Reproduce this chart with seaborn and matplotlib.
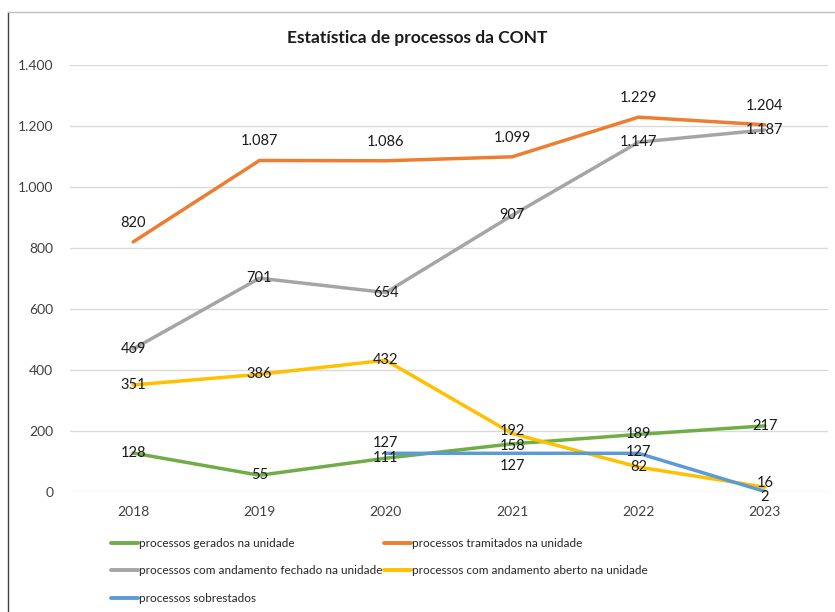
import matplotlib
matplotlib.use("Agg")
import matplotlib.pyplot as plt
from matplotlib.lines import Line2D
from matplotlib.ticker import FuncFormatter
import numpy as np
import pandas as pd
import seaborn as sns

#---------------------Dados------------------
anos = ['2018', '2019', '2020', '2021', '2022', '2023']
gerados = [128, 55, 111, 158, 189, 217]
tramitados = [820, 1087, 1086, 1099, 1229, 1204]
fechados = [469, 701, 654, 907, 1147, 1187]
abertos = [351, 386, 432, 192, 82, 16]
sobrestados = [np.nan, np.nan, 127, 127, 127, 2]

series = {
    'processos gerados na unidade': gerados,
    'processos tramitados na unidade': tramitados,
    'processos com andamento fechado na unidade': fechados,
    'processos com andamento aberto na unidade': abertos,
    'processos sobrestados': sobrestados,
}
cores = ['#70AD47', '#ED7D31', '#A5A5A5', '#FFC000', '#5B9BD5']

# deslocamento vertical dos rótulos (pixels), por série
desloc = {
    'processos gerados na unidade': [0, 0, 0, -2, 0, 0],
    'processos tramitados na unidade': [19, 19, 19, 19, 19, 19],
    'processos com andamento fechado na unidade': [0, 0, 0, 0, 0, 0],
    'processos com andamento aberto na unidade': [0, 0, 0, 2, 0, 4],
    'processos sobrestados': [0, 0, 10, -13, 1, -6],
}

df = pd.DataFrame([
    {'Ano': a, 'Série': nome, 'Valor': v}
    for nome, vals in series.items() for a, v in zip(anos, vals)
]).dropna()

#---------------------Gráfico------------------
sns.set_theme(style='white')
plt.rcParams['font.family'] = ['Lato', 'DejaVu Sans']

fig = plt.figure(figsize=(8.35, 6.12), dpi=100)
ax = fig.add_axes([0.0838, 0.196, 0.9078, 0.6978])

sns.lineplot(data=df, x='Ano', y='Valor', hue='Série', palette=cores,
             linewidth=2.5, ax=ax, legend=False, sort=False)

for nome, vals in series.items():
    for a, v, d in zip(anos, vals, desloc[nome]):
        if np.isnan(v):
            continue
        ax.annotate(f'{int(v):,}'.replace(',', '.'), xy=(a, v),
                    xytext=(0, d), textcoords='offset pixels',
                    ha='center', va='center', fontsize=10.5, color='#1a1a1a')

ax.set_xlim(-0.5, 5.5)
ax.set_ylim(0, 1400)
ax.set_yticks(range(0, 1401, 200))
ax.yaxis.set_major_formatter(FuncFormatter(lambda v, p: f'{int(v):,}'.replace(',', '.')))
ax.grid(axis='y', color='#D9D9D9', linewidth=1)
ax.set_axisbelow(True)
for s in ax.spines.values():
    s.set_visible(False)
ax.tick_params(axis='both', length=0, labelsize=10, colors='#404040')
ax.tick_params(axis='y', pad=12)
ax.tick_params(axis='x', pad=10)
ax.set_xlabel('')
ax.set_ylabel('')

fig.text(0.5, 0.938, 'Estatística de processos da CONT', ha='center', va='center',
         fontsize=12.5, fontweight='bold', color='#1a1a1a')

# legenda em duas colunas, preenchida por linha
nomes = list(series.keys())
handles = [Line2D([], [], color=c, linewidth=2.8) for c in cores]
ordem = [0, 2, 4, 1, 3]
ax.legend([handles[i] for i in ordem], [nomes[i] for i in ordem], ncol=2,
          loc='upper left', bbox_to_anchor=(0.04, -0.082), frameon=False,
          fontsize=8.5, handlelength=2.3, handletextpad=0.1,
          columnspacing=0.1, labelspacing=1.4)

# moldura do gráfico (parte visível)
fig.add_artist(Line2D([0.0096, 0.0096], [0.0, 0.980], color='#404040', linewidth=1))
fig.add_artist(Line2D([0.0096, 1.0], [0.980, 0.980], color='#BFBFBF', linewidth=1))

fig.savefig('out.png', dpi=100)
